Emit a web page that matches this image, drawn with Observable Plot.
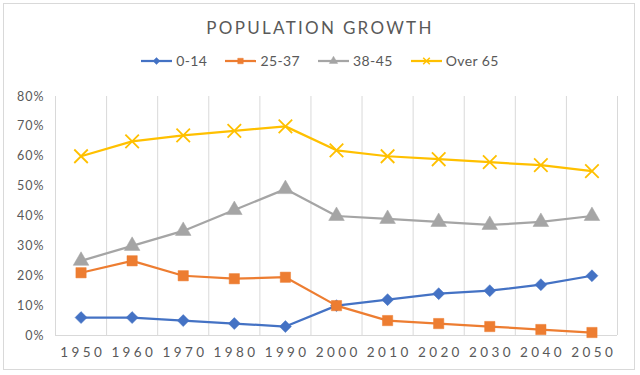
<!DOCTYPE html>
<html>
<head>
<meta charset="utf-8">
<script src="https://cdn.jsdelivr.net/npm/d3@7"></script>
<script src="https://cdn.jsdelivr.net/npm/@observablehq/plot@0.6"></script>
<style>
  html, body { margin: 0; padding: 0; background: #fff; }
  #chart { position: relative; width: 640px; height: 375px; font-family: Lato, "Open Sans", sans-serif; color: #595959; overflow: hidden; }
  #frame { position: absolute; left: 3px; top: 3px; width: 632px; height: 367px; border: 1px solid #d9d9d9; box-sizing: border-box; pointer-events: none; }
  #header { position: relative; height: 80px; }
  #title { position: absolute; left: 0; right: 0; top: 18px; text-align: center; font-size: 17px; letter-spacing: 2.3px; line-height: 20px; color: #595959; }
  #legend { position: absolute; left: 0; right: 0; top: 52px; display: flex; justify-content: center; gap: 18px; font-size: 14px; letter-spacing: 0.4px; line-height: 18px; color: #595959; }
  .item { display: flex; align-items: center; gap: 4px; }
  .item svg { display: block; }
  svg.plot text { fill: #595959; }
</style>
</head>
<body>
<div id="chart">
  <div id="frame"></div>
  <div id="header">
    <div id="title">POPULATION GROWTH</div>
    <div id="legend"></div>
  </div>
  <div id="plot"></div>
</div>
<script>
const years = [1950, 1960, 1970, 1980, 1990, 2000, 2010, 2020, 2030, 2040, 2050];
const age0to14 = [6, 6, 5, 4, 3, 10, 12, 14, 15, 17, 20];
const age25to37 = [21, 25, 20, 19, 19.5, 10, 5, 4, 3, 2, 1];
const age38to45 = [25, 30, 35, 42, 49, 40, 39, 38, 37, 38, 40];
const over65 = [60, 65, 67, 68.5, 70, 62, 60, 59, 58, 57, 55];
const seriesNames = ["0-14", "25-37", "38-45", "Over 65"];
const yTicks = [0, 10, 20, 30, 40, 50, 60, 70, 80];

const styles = [
  {color: "#4472C4", symbol: "diamond2", r: 5.4, fill: true},
  {color: "#ED7D31", symbol: "square", r: 5.8, fill: true},
  {color: "#A5A5A5", symbol: "triangle", r: 5.8, fill: true},
  {color: "#FFC000", symbol: "times", r: 6.2, fill: false}
];
const seriesValues = [age0to14, age25to37, age38to45, over65];
const series = seriesNames.map((name, k) => ({name, values: seriesValues[k], ...styles[k]}));

const gridYears = d3.range(years[0] - 5, years[years.length - 1] + 6, 10);

const marks = [
  Plot.ruleX(gridYears, {x: d => d, y1: 0, y2: 80, stroke: "#d9d9d9", strokeWidth: 1}),
  Plot.ruleY([0], {stroke: "#d9d9d9", strokeWidth: 1}),
  Plot.axisX({ticks: years, tickFormat: d => String(d), tickSize: 0, tickPadding: 12, fontSize: 13.5, label: null}),
  Plot.axisY({ticks: yTicks, tickFormat: d => d + "%", tickSize: 0, tickPadding: 12, fontSize: 12.5, label: null})
];
for (const s of series) {
  const data = years.map((y, i) => ({year: y, value: s.values[i]}));
  marks.push(Plot.line(data, {x: "year", y: "value", stroke: s.color, strokeWidth: 2.25}));
  marks.push(Plot.dot(data, {
    x: "year", y: "value", symbol: () => s.symbol, r: s.r,
    fill: s.fill ? s.color : "none", stroke: s.color, strokeWidth: s.fill ? 0.5 : 1.8
  }));
}

const chart = Plot.plot({
  width: 640,
  height: 295,
  marginTop: 16,
  marginBottom: 40,
  marginLeft: 55,
  marginRight: 23,
  style: {fontFamily: "Lato, 'Open Sans', sans-serif", color: "#595959", background: "transparent"},
  x: {type: "linear", domain: [1945, 2055]},
  y: {domain: [0, 80]},
  symbol: {type: "identity"},
  marks
});
document.getElementById("plot").appendChild(chart);

// letter spacing for axis labels
chart.querySelectorAll('[aria-label="x-axis tick label"] text').forEach(t => { t.style.letterSpacing = "3.4px"; t.setAttribute("dx", "1.7"); });
chart.querySelectorAll('[aria-label="y-axis tick label"] text').forEach(t => { t.style.letterSpacing = "1px"; t.setAttribute("dx", "1"); });

// legend
const legend = document.getElementById("legend");
const symMap = {diamond2: d3.symbolDiamond2, square: d3.symbolSquare, triangle: d3.symbolTriangle, times: d3.symbolTimes};
for (const s of series) {
  const item = document.createElement("div");
  item.className = "item";
  const svg = d3.create("svg").attr("width", 31).attr("height", 12);
  svg.append("line").attr("x1", 0).attr("x2", 31).attr("y1", 6).attr("y2", 6).attr("stroke", s.color).attr("stroke-width", 2.25);
  svg.append("path").attr("transform", "translate(15.5,6)")
    .attr("d", d3.symbol(symMap[s.symbol], 30)())
    .attr("fill", s.fill ? s.color : "none").attr("stroke", s.color).attr("stroke-width", s.fill ? 0.5 : 1.5);
  item.appendChild(svg.node());
  const label = document.createElement("span");
  label.textContent = s.name;
  item.appendChild(label);
  legend.appendChild(item);
}
</script>
</body>
</html>
